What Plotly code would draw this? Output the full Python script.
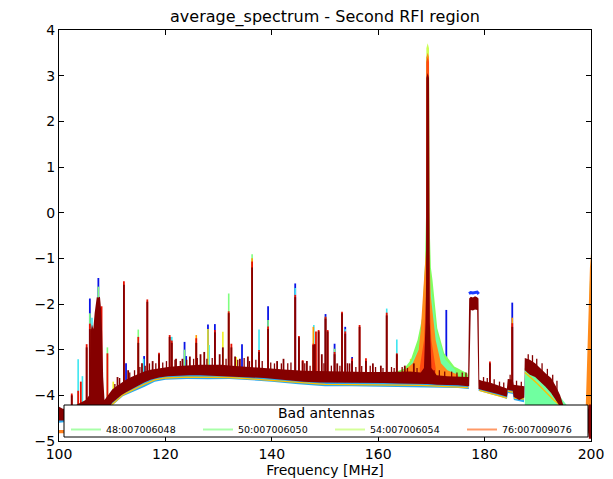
import numpy as np
import plotly.graph_objects as go

# ---------------- data ----------------
# dark-red (bulk of antennas) band: frequency, upper and lower envelope
dr_f = [100.0, 100.8, 101.6, 102.6, 103.4, 104.2, 105.0, 105.7, 105.95, 106.2, 106.45, 106.7, 106.9,
        107.1, 107.4, 107.7, 107.9, 108.1, 108.3, 108.55, 108.9, 109.5, 110.0, 110.8, 111.7, 112.6,
        113.6, 114.9, 116.0, 117.2, 118.8, 120.5, 122.5, 124.5, 126.5, 128.5, 130.5, 132.5, 134.5,
        136.5, 138.5, 140.5, 143.0, 146.0, 149.0, 152.0, 155.0, 158.0, 161.0, 164.0, 166.0, 168.0,
        168.6, 168.9, 169.0, 169.05, 169.3, 169.55, 169.6, 169.7, 170.0, 171.0, 173.0, 175.0, 176.9,
        177.1, 177.4, 177.8, 178.2, 178.6, 178.85, 179.0, 179.5, 181.0, 182.5, 184.2, 184.35, 185.3,
        185.45, 186.5, 187.45, 187.55, 188.5, 189.5, 190.5, 191.5, 192.5, 193.4, 194.2, 194.8, 195.3,
        199.3, 199.6, 200.0]
dr_hi = [-4.25, -4.3, -4.22, -4.25, -4.2, -4.15, -4.1, -4.0, -2.6, -2.45, -2.55, -2.2, -1.95,
         -1.85, -1.86, -1.84, -2.1, -2.6, -3.6, -4.1, -4.05, -3.95, -3.87, -3.8, -3.72, -3.66,
         -3.6, -3.53, -3.48, -3.44, -3.41, -3.38, -3.36, -3.34, -3.33, -3.33, -3.33, -3.35, -3.37,
         -3.38, -3.4, -3.42, -3.44, -3.46, -3.47, -3.48, -3.49, -3.49, -3.49, -3.48, -3.48, -3.5,
         -3.4, -2.4, -1.5, 2.95, 3.06, 2.95, -1.5, -2.4, -3.4, -3.56, -3.58, -3.59, -3.6,
         -1.88, -1.84, -1.86, -1.83, -1.85, -1.88, -3.66, -3.68, -3.72, -3.78, -3.85, -3.64, -3.66,
         -3.77, -3.78, -3.8, -3.18, -3.22, -3.3, -3.42, -3.52, -3.62, -3.8, -4.0, -4.2, -4.4,
         -4.4, -4.2, -4.2]
dr_lo = [-4.55, -4.55, -4.5, -4.5, -4.5, -4.5, -4.5, -4.5, -4.5, -4.5, -4.5, -4.5, -4.5,
         -4.5, -4.5, -4.5, -4.5, -4.5, -4.5, -4.45, -4.4, -4.25, -4.16, -4.08, -4.0, -3.93,
         -3.86, -3.79, -3.72, -3.66, -3.61, -3.58, -3.57, -3.56, -3.56, -3.57, -3.57, -3.58, -3.6,
         -3.61, -3.62, -3.64, -3.66, -3.7, -3.72, -3.73, -3.73, -3.73, -3.73, -3.74, -3.74, -3.75,
         -3.75, -3.75, -3.75, -3.75, -3.75, -3.75, -3.75, -3.75, -3.76, -3.77, -3.78, -3.78, -3.8,
         -3.8, -2.13, -2.14, -2.12, -2.13, -3.86, -3.86, -3.88, -3.92, -3.97, -4.03, -3.88, -3.9,
         -4.03, -4.1, -4.05, -3.45, -3.55, -3.6, -3.7, -3.82, -3.95, -4.1, -4.25, -4.35, -4.6,
         -4.6, -4.95, -4.95]

# light-blue lowest fringe
cy_f = [100.0, 108.5, 110.0, 112.0, 114.0, 116.0, 118.0, 120.0, 124.0, 128.0, 132.0, 136.0, 140.0,
        145.0, 150.0, 155.0, 160.0, 165.0, 168.5, 170.5, 175.0, 176.9, 177.05, 178.85, 179.0, 181.0,
        183.0, 184.2, 184.4, 185.3, 185.5, 187.4, 187.6, 195.0, 200.0]
cy_lo = [-4.6, -4.5, -4.22, -4.02, -3.92, -3.82, -3.7, -3.66, -3.64, -3.65, -3.64, -3.67, -3.7,
         -3.76, -3.8, -3.8, -3.8, -3.81, -3.82, -3.83, -3.84, -3.86, -3.86, -3.9, -3.9, -3.97,
         -4.03, -4.08, -3.95, -3.97, -4.1, -4.15, -3.7, -4.5, -4.6]
cy_hi = [-4.4, -4.3, -4.05, -3.9, -3.8, -3.68, -3.58, -3.55, -3.53, -3.53, -3.53, -3.55, -3.58,
         -3.63, -3.66, -3.66, -3.66, -3.66, -3.68, -3.7, -3.72, -3.74, -3.86, -3.9, -3.8, -3.86,
         -3.91, -3.96, -3.82, -3.85, -3.97, -4.0, -3.5, -4.3, -4.5]

# yellow/orange fringe just under the dark-red band (None = break)
yf_f = [108.6, 110.0, 112.0, 114.0, 116.0, 118.0, 120.0, 124.0, 128.0, 132.0, 136.0, 140.0, 145.0,
        150.0, 160.0, 168.0, 176.9, None, 179.0, 184.2, None, 184.4, 185.3, None, 185.5, 187.4, None,
        187.6, 190.0, 193.0, 195.0]
yf_y = [-4.45, -4.2, -3.99, -3.87, -3.76, -3.66, -3.62, -3.6, -3.61, -3.61, -3.64, -3.67, -3.72,
        -3.76, -3.77, -3.78, -3.83, None, -3.89, -4.06, None, -3.91, -3.93, None, -4.06, -4.08, None,
        -3.5, -3.75, -4.1, -4.3]

# narrow RFI spikes: frequency and top value, per colour
bl_f = [105.8, 107.4, 112.6, 116.0, 123.6, 123.9, 128.0, 129.3, 134.4, 139.3, 144.4, 150.1, 151.8,
        153.8, 155.1, 172.8, 185.2]
bl_top = [-1.88, -1.43, -3.3, -3.14, -2.83, -3.14, -2.45, -2.44, -2.88, -2.05, -1.55, -2.22, -2.87,
          -2.5, -3.16, -2.13, -1.97]
plat_f = [177.05, 177.4, 177.8, 178.2, 178.6, 178.9]
plat_y = [-1.77, -1.75, -1.76, -1.75, -1.74, -1.78]

cs_f = [103.6, 104.4, 106.2, 107.7, 115.9, 121.2, 128.2, 137.6, 144.4, 147.9, 153.8, 161.6, 163.5]
cs_top = [-3.21, -3.58, -2.3, -2.1, -3.2, -2.72, -2.9, -2.56, -1.65, -2.46, -2.55, -2.10, -2.78]

gs_f = [105.8, 107.4, 109.1, 114.9, 123.6, 131.9, 136.3, 139.3, 150.1, 151.8]
gs_top = [-2.2, -1.62, -2.95, -2.56, -3.0, -1.77, -0.91, -2.35, -2.28, -2.98]

ys_f = [110.2, 128.0, 130.8, 133.3, 166.1]
ys_top = [-3.7, -2.55, -2.61, -3.16, -3.2]

os_f = [125.8, 136.3, 147.8, 185.2]
os_top = [-2.68, -1.0, -2.5, -2.3]

rd_f = [102.4, 103.6, 104.1, 105.2, 105.8, 108.0, 109.1, 112.2, 114.9, 116.6, 118.8, 120.8, 121.2,
        125.8, 129.3, 131.9, 132.4, 136.3, 137.6, 139.3, 144.4, 145.1, 145.8, 147.8, 148.3, 148.8,
        150.1, 150.5, 151.8, 153.2, 153.8, 155.1, 156.5, 157.7, 161.6, 163.5, 181.0, 185.2]
rd_top = [-3.96, -3.9, -3.7, -2.88, -2.43, -2.05, -3.08, -1.50, -2.72, -1.90, -3.07, -2.68, -2.8,
          -2.75, -2.57, -2.16, -2.87, -1.07, -3.01, -2.49, -1.80, -2.70, -3.23, -2.87, -2.6, -2.57,
          -2.28, -2.57, -3.05, -2.17, -2.6, -3.19, -2.46, -3.19, -2.19, -3.08, -3.26, -2.42]

dk_f = [102.4, 105.2, 105.8, 111.0, 112.2, 113.0, 114.9, 115.6, 116.6, 117.6, 118.8, 120.8, 121.2,
        122.0, 123.2, 124.6, 125.8, 126.6, 127.3, 129.3, 130.2, 130.8, 131.9, 132.4, 133.1, 134.0,
        135.5, 136.3, 137.6, 139.3, 141.0, 142.2, 144.4, 145.1, 145.8, 146.6, 147.8, 148.1, 148.8,
        149.4, 150.1, 150.5, 151.8, 152.3, 153.2, 153.8, 154.6, 155.1, 156.5, 157.7, 159.0, 160.5,
        161.6, 163.5, 165.0, 166.7, 181.0, 185.2]
dk_top = [-4.0, -2.95, -2.55, -3.6, -1.58, -3.45, -2.85, -3.3, -1.95, -3.25, -3.1, -2.72, -2.85,
          -3.2, -3.2, -3.15, -2.85, -3.1, -3.05, -2.62, -3.1, -2.95, -2.2, -2.95, -3.15, -3.2,
          -3.15, -1.2, -3.05, -2.55, -3.25, -3.2, -1.85, -2.73, -3.25, -3.25, -2.9, -2.88, -2.6,
          -3.1, -2.32, -2.6, -3.1, -3.3, -2.2, -2.65, -3.3, -3.25, -2.5, -3.25, -3.3, -3.35,
          -2.25, -3.1, -3.35, -3.3, -3.3, -2.5]

# small noise spikes on top of the dark-red band
tex_f = [110.5, 111.4, 113.3, 114.2, 115.2, 116.2, 117.0, 118.2, 119.5, 120.2, 121.8, 122.8, 124.0,
         125.3, 126.0, 127.8, 128.8, 131.4, 133.6, 134.8, 135.8, 137.0, 138.2, 139.8, 140.5, 141.8,
         143.0, 143.6, 146.2, 147.2, 149.8, 151.2, 152.8, 154.2, 155.8, 156.9, 158.5, 159.5, 160.9,
         162.5, 163.0, 164.5, 165.5, 167.3, 170.5, 171.5, 172.5, 173.8, 174.8, 175.8, 176.5, 179.8,
         180.5, 181.8, 182.8, 183.6, 184.8, 186.0, 186.9, 188.2, 189.0, 189.8, 190.8, 191.8, 192.8,
         193.6]
tex_top = [-3.75, -3.62, -3.5, -3.45, -3.38, -3.35, -3.3, -3.3, -3.28, -3.25, -3.22, -3.25, -3.22,
           -3.2, -3.18, -3.2, -3.18, -3.2, -3.22, -3.18, -3.25, -3.22, -3.25, -3.28, -3.3, -3.3,
           -3.3, -3.28, -3.3, -3.35, -3.3, -3.35, -3.35, -3.3, -3.38, -3.36, -3.35, -3.38, -3.4,
           -3.38, -3.4, -3.38, -3.4, -3.4, -3.45, -3.45, -3.48, -3.48, -3.5, -3.5, -3.5, -3.6,
           -3.62, -3.65, -3.7, -3.72, -3.55, -3.68, -3.7, -3.1, -3.12, -3.2, -3.3, -3.42, -3.55,
           -3.68]

# red-orange core of the 170 MHz line (good antennas)
ro_f = [167.8, 168.6, 169.0, 169.05, 169.3, 169.55, 169.6, 170.0, 170.8]
ro_hi = [-3.4, -2.8, -1.8, 3.3, 3.4, 3.3, -1.8, -2.8, -3.4]
ro_floor = -3.65

# bad antennas: broad wings around the 170 MHz line and other excursions
a54_f = [166.5, 168.0, 168.8, 169.0, 169.05, 169.3, 169.55, 169.6, 169.8, 171.0, 172.0]
a54_hi = [-3.6, -2.9, -1.6, -0.5, 3.6, 3.71, 3.6, -0.5, -1.6, -2.9, -3.55]
a54_floor = -3.65

a48_f = [163.0, 164.9, 166.1, 167.4, 168.3, 168.8, 169.0, 169.05, 169.3, 169.55, 169.6, 169.9, 170.2,
         171.1, 172.4, 174.3, 176.8, 177.0]
a48_hi = [-3.5, -3.41, -3.23, -2.79, -2.28, -1.11, 0.0, 3.4, 3.45, 3.4, 0.0, -1.2, -1.47,
          -2.53, -3.08, -3.37, -3.52, -3.6]
a48_floor = -3.65
a48_edge_f = [199.2, 199.5, 199.8, 200.0]
a48_edge_hi = [-4.3, -2.8, -1.5, -1.4]
a48_edge_floor = -4.5

a50_f = [165.5, 167.5, 168.5, 169.0, 169.05, 169.3, 169.55, 169.6, 170.1, 171.0, 172.5, 174.5]
a50_hi = [-3.45, -3.0, -2.45, -1.3, 3.2, 3.3, 3.2, -1.3, -1.8, -2.6, -3.2, -3.45]
a50_floor = -3.65
a50_low_f = [187.55, 189.0, 191.0, 193.0, 194.6, 196.0]
a50_low_hi = [-3.4, -3.5, -3.65, -3.85, -4.1, -4.3]
a50_low_floor = -4.4

a76_f = [164.5, 166.5, 167.6, 168.0, 168.6, 169.0, 169.05, 169.3, 169.55, 169.6, 169.9, 170.4, 170.8,
         171.8, 173.0, 175.0]
a76_hi = [-3.5, -3.3, -3.0, -2.57, -1.48, -0.8, 3.4, 3.5, 3.4, -0.8, -1.84, -2.4, -2.79,
          -3.30, -3.45, -3.55]
a76_floor = -3.65
a76_edge_f = [199.0, 199.3, 199.6, 199.8, 200.0]
a76_edge_hi = [-4.3, -3.0, -1.8, -1.2, -0.9]
a76_edge_floor = -4.6
a76_low_f = [100.0, 200.0]
a76_low_hi = [-4.76, -4.76]
a76_low_floor = -4.83

legend_title = "Bad antennas"
legend_names = ["48:007006048", "50:007006050", "54:007006054", "76:007009076"]
legend_colors = ["#a8ffa8", "#a8ffa8", "#d4ff99", "#ff9966"]

x_ticks = [100, 120, 140, 160, 180, 200]
y_ticks = [-5, -4, -3, -2, -1, 0, 1, 2, 3, 4]

# ---------------- helpers ----------------
def band(fs, hi, lo):
    return list(fs) + list(fs)[::-1], list(hi) + list(lo)[::-1]


def polys(*parts):
    xs, ys = [], []
    for fs, hi, floor in parts:
        px, py = band(fs, hi, [floor] * len(fs))
        if xs:
            xs.append(None)
            ys.append(None)
        xs += px + [px[0]]
        ys += py + [py[0]]
    return xs, ys


def spikes(fs, tops):
    xs, ys = [], []
    for f, t in zip(fs, tops):
        b = float(np.interp(f, dr_f, dr_lo)) + 0.02
        xs += [f, f, None]
        ys += [b, t, None]
    return xs, ys


fig = go.Figure()


def add_fill(x, y, color):
    fig.add_trace(go.Scatter(x=x, y=y, mode="lines", fill="toself", fillcolor=color,
                             line=dict(width=0, color=color), showlegend=False, hoverinfo="skip"))


def add_spikes(fs, tops, color, width=1.6):
    x, y = spikes(fs, tops)
    fig.add_trace(go.Scatter(x=x, y=y, mode="lines", line=dict(color=color, width=width),
                             showlegend=False, hoverinfo="skip"))


# 76 low trace (mostly hidden by legend)
x, y = polys((a76_low_f, a76_low_hi, a76_low_floor))
add_fill(x, y, "#ff7f1e")

add_spikes(bl_f, bl_top, "#0a14e6", 1.8)
fig.add_trace(go.Scatter(x=plat_f, y=plat_y, mode="lines", line=dict(color="#1a3cff", width=3),
                         showlegend=False, hoverinfo="skip"))

x, y = band(cy_f, cy_hi, cy_lo)
add_fill(x, y, "#2aa8ee")

add_spikes(cs_f, cs_top, "#3ee6f0")
add_spikes(gs_f, gs_top, "#7fff7f")
add_spikes(ys_f, ys_top, "#f0f020")
add_spikes(os_f, os_top, "#ff9a00")

x, y = polys((a54_f, a54_hi, a54_floor))
add_fill(x, y, "#ccff55")
x, y = polys((a48_f, a48_hi, a48_floor), (a48_edge_f, a48_edge_hi, a48_edge_floor))
add_fill(x, y, "#80ff60")
x, y = polys((a50_f, a50_hi, a50_floor), (a50_low_f, a50_low_hi, a50_low_floor))
add_fill(x, y, "#70ffa0")
x, y = polys((a76_f, a76_hi, a76_floor), (a76_edge_f, a76_edge_hi, a76_edge_floor))
add_fill(x, y, "#ff8a1a")
x, y = polys((ro_f, ro_hi, ro_floor))
add_fill(x, y, "#ff4a10")

fig.add_trace(go.Scatter(x=yf_f, y=yf_y, mode="lines", line=dict(color="#ffc000", width=1.3),
                         showlegend=False, hoverinfo="skip", connectgaps=False))

add_spikes(rd_f, rd_top, "#e81000", 1.8)

x, y = band(dr_f, dr_hi, dr_lo)
add_fill(x, y, "#850000")
add_spikes(dk_f, dk_top, "#850000", 1.8)
add_spikes(tex_f, tex_top, "#850000", 1.3)

# legend entries for the bad antennas
for name, col in zip(legend_names, legend_colors):
    fig.add_trace(go.Scatter(x=[None], y=[None], mode="lines", name=name,
                             line=dict(color=col, width=2)))

axis_common = dict(showgrid=False, zeroline=False, showline=True, linecolor="black", linewidth=1,
                   mirror="ticks", ticks="inside", ticklen=5, tickcolor="black", tickwidth=1,
                   automargin=False,
                   tickfont=dict(family="DejaVu Sans", size=14, color="black"))

# plot area in page pixels: x 59..590, y 30..441 (page body adds an 8 px offset)
PL, PW, PT, PH = 59.0, 531.0, 30.0, 411.0


def px_x(p):
    return (p - PL) / PW


def px_y(p):
    return (PT + PH - p) / PH


# legend frame (white box with border) and its title
fig.add_shape(type="rect", xref="paper", yref="paper",
              x0=px_x(64), x1=px_x(587), y0=px_y(437), y1=px_y(405),
              fillcolor="white", line=dict(color="black", width=1), layer="above")
fig.add_annotation(text=legend_title, xref="paper", yref="paper", x=px_x(325.5), y=px_y(413),
                   xanchor="center", yanchor="middle", showarrow=False,
                   font=dict(family="DejaVu Sans", size=14, color="black"))

fig.update_layout(
    width=605, height=471,
    margin=dict(l=51, r=22, t=22, b=38),
    paper_bgcolor="white", plot_bgcolor="white",
    font=dict(family="DejaVu Sans", color="black"),
    title=dict(text="average_spectrum - Second RFI region", x=0.5, xref="paper", xanchor="center",
               y=1 - 8 / 471, yref="container", yanchor="middle", automargin=False,
               font=dict(family="DejaVu Sans", size=16, color="black")),
    xaxis=dict(range=[100, 200], tickvals=x_ticks,
               title=dict(text="Frequency [MHz]", font=dict(size=14, family="DejaVu Sans"), standoff=4),
               **axis_common),
    yaxis=dict(range=[-5, 4], tickvals=y_ticks, **axis_common),
    legend=dict(orientation="h", x=px_x(66), xanchor="left", y=px_y(429.5), yanchor="middle",
                bgcolor="rgba(0,0,0,0)", borderwidth=0,
                font=dict(family="DejaVu Sans", size=9.5, color="black"),
                entrywidth=87, entrywidthmode="pixels", itemwidth=30, tracegroupgap=0),
    showlegend=True,
)

fig.write_html("out.html")
